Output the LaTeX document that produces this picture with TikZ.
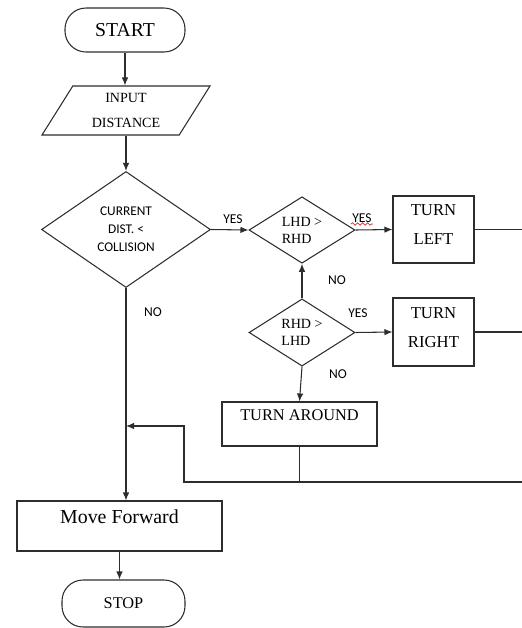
\documentclass[tikz,border=0pt]{standalone}
\usepackage{fontspec}
\setmainfont{Liberation Serif}
\newfontfamily\calibri{Carlito}
\usetikzlibrary{positioning, shapes.geometric, arrows.meta, decorations.pathmorphing}
\definecolor{LineGray}{RGB}{45, 45, 45}
\definecolor{SpellRed}{RGB}{205, 45, 45}
\newcommand{\twolines}[2]{\begin{tabular}[t]{@{}c@{}}#1\\#2\end{tabular}}

\begin{document}
\begin{tikzpicture}[
    x=0.2mm, y=-0.2mm,
    terminal/.style={rectangle, rounded corners=4.2mm, draw=LineGray, line width=0.6pt, minimum width=24mm},
    io/.style={trapezium, trapezium left angle=56, trapezium right angle=124, trapezium stretches body,
      draw=LineGray, line width=0.6pt, minimum width=33.6mm, minimum height=9.8mm, align=center,
      font=\fontsize{8}{14}\selectfont},
    decision/.style={diamond, draw=LineGray, line width=0.6pt, inner sep=0pt},
    process/.style={rectangle, draw=LineGray, line width=0.6pt, inner sep=0pt},
    tag/.style={font=\calibri\fontsize{7.7}{9}\selectfont, inner sep=0pt},
    arrow/.style={-{Latex[length=1.6mm, width=1.3mm]}, line width=0.6pt, LineGray},
    link/.style={line width=0.6pt, LineGray},
    spell/.style={SpellRed, line width=0.4pt, decorate, decoration={snake, amplitude=0.25mm, segment length=1mm}}
  ]
    \useasboundingbox (0,0) rectangle (522,628);

    % Start and input
    \node[terminal, minimum height=8.8mm, font=\fontsize{11.2}{13}\selectfont] (start) at (125, 30) {START};
    \node[io] (input) at (126, 110.5) {INPUT\\DISTANCE};

    % Decisions
    \node[decision, minimum width=33.8mm, minimum height=23.2mm, align=center,
      font=\calibri\fontsize{7.6}{10.2}\selectfont] (collide) at (126, 229.5) {CURRENT\\DIST. <\\COLLISION};
    \node[decision, minimum width=21.2mm, minimum height=13.2mm, align=left,
      font=\fontsize{8}{9.6}\selectfont] (lhd) at (302, 230) {LHD >\\RHD};
    \node[decision, minimum width=21.2mm, minimum height=13.4mm, align=left,
      font=\fontsize{8}{9.6}\selectfont] (rhd) at (302, 332.5) {RHD >\\LHD};

    % Turns
    \node[process, minimum width=16.2mm, text height=3.8mm, text depth=9.6mm,
      font=\fontsize{9.5}{17}\selectfont] (left) at (433.5, 229.5) {\twolines{TURN}{LEFT}};
    \node[process, minimum width=16.2mm, text height=4mm, text depth=9.6mm,
      font=\fontsize{9.5}{17}\selectfont] (right) at (433.5, 332) {\twolines{TURN}{RIGHT}};
    \node[process, minimum width=31mm, text height=3.6mm, text depth=5.2mm,
      font=\fontsize{9.3}{11}\selectfont] (around) at (299.5, 424) {TURN AROUND};

    % Move and stop
    \node[process, minimum width=41mm, text height=4.4mm, text depth=5.6mm,
      font=\fontsize{11.3}{13}\selectfont] (move) at (119.5, 526) {Move Forward};
    \node[terminal, minimum width=24.6mm, minimum height=9.4mm, font=\fontsize{9.3}{11}\selectfont] (stop) at (123.5, 603.5) {STOP};

    % Branch labels
    \node[tag] (yes1) at (233, 219) {YES};
    \node[tag] (yes2) at (362, 218) {YES};
    \node[tag] (yes3) at (358, 313) {YES};
    \node[tag] (no1) at (153, 312) {NO};
    \node[tag] (no2) at (337, 280) {NO};
    \node[tag] (no3) at (338, 374) {NO};
    \draw[spell] (351, 224) -- (373, 224);

    \coordinate (rim) at (522, 0);
    \coordinate (loop) at (184, 482);
    \coordinate (merge) at (126, 426);

    % Connections
    \draw[arrow] (start.south) -- (start.south |- input.north);
    \draw[arrow] (collide.north |- input.south) -- (collide.north);
    \draw[arrow] (collide.east) -- (lhd.west);
    \draw[arrow] (lhd.east) -- (left.west);
    \draw[arrow] (rhd.north) -- (lhd.south);
    \draw[arrow] (rhd.east) -- (right.west);
    \draw[arrow] (rhd.south) -- (around.north);
    \draw[link] (left.east) -- (left.east -| rim);
    \draw[link] (right.east) -- (right.east -| rim);
    \draw[link] (around.south) -- (around.south |- loop);
    \draw[arrow] (rim |- loop) -- (loop) |- (merge);
    \draw[arrow] (collide.south) -- (collide.south |- move.north);
    \draw[arrow] (move.south) -- (move.south |- stop.north);
  \end{tikzpicture}
\end{document}
